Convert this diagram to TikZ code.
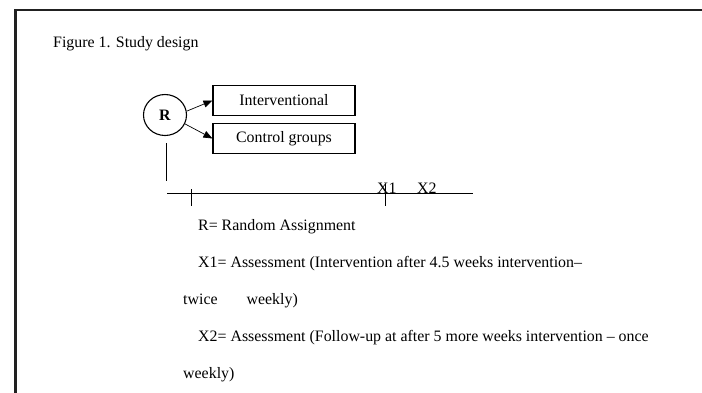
\documentclass[tikz,border=0pt]{standalone}
\usepackage{fontspec}
\setmainfont{Liberation Serif}
\usetikzlibrary{arrows.meta,shapes.geometric}
\begin{document}
\begin{tikzpicture}[x=1pt,y=-1pt,
  every node/.style={font=\fontsize{15.9}{19}\selectfont, inner sep=0pt},
  frameline/.style={line width=2.6pt, draw=black!87},
  groupbox/.style={draw, line width=1.1pt, minimum width=142pt, minimum height=30pt},
  randcirc/.style={draw, ellipse, line width=1.1pt, minimum width=43pt, minimum height=41pt},
  arr/.style={line width=0.7pt, -{Triangle[length=9pt,width=7pt]}},
  axis/.style={line width=0.9pt},
  bodytext/.style={anchor=base west}
]
\useasboundingbox (0,0) rectangle (702,392);
% frame
\coordinate (fTR) at (705,10);
\coordinate (fTL) at (15.5,10);
\coordinate (fBL) at (15.5,395);
\draw[frameline] (fTR) -- (fTL) -- (fBL);

% title
\node[bodytext] (title) at (53,47) {Figure 1. Study design};

% R circle and groups
\node[randcirc] (R) at (165,115) {\textbf{R}};
\node[groupbox] (intv) at (284,100.5) {Interventional};
\node[groupbox] (ctrl) at (284,138.5) {Control groups};
\draw[arr] (R.10) -- (intv.west);
\draw[arr] (R.-24) -- (ctrl.west);

% timeline
\coordinate (vT) at (166,143);
\coordinate (vB) at (166,181);
\draw[axis] (vT) -- (vB);
\coordinate (aL) at (167,193.5);
\coordinate (aR) at (473,193.5);
\draw[axis] (aL) -- (aR);
\coordinate (t1T) at (191,189);
\coordinate (t1B) at (191,206);
\draw[axis] (t1T) -- (t1B);
\coordinate (t2T) at (385,184);
\coordinate (t2B) at (385,206);
\draw[axis] (t2T) -- (t2B);
\node[bodytext] (x1) at (377,193) {X1};
\node[bodytext] (x2) at (417,193) {X2};

% legend
\node[bodytext] (l1) at (198,230) {R= Random Assignment};
\node[bodytext] (l2) at (198,267) {X1= Assessment (Intervention after 4.5 weeks intervention–};
\node[bodytext] (l3) at (183,304) {twice\hspace{29pt}weekly)};
\node[bodytext] (l4) at (198,341) {X2= Assessment (Follow-up at after 5 more weeks intervention – once};
\node[bodytext] (l5) at (183,378) {weekly)};
\end{tikzpicture}
\end{document}
